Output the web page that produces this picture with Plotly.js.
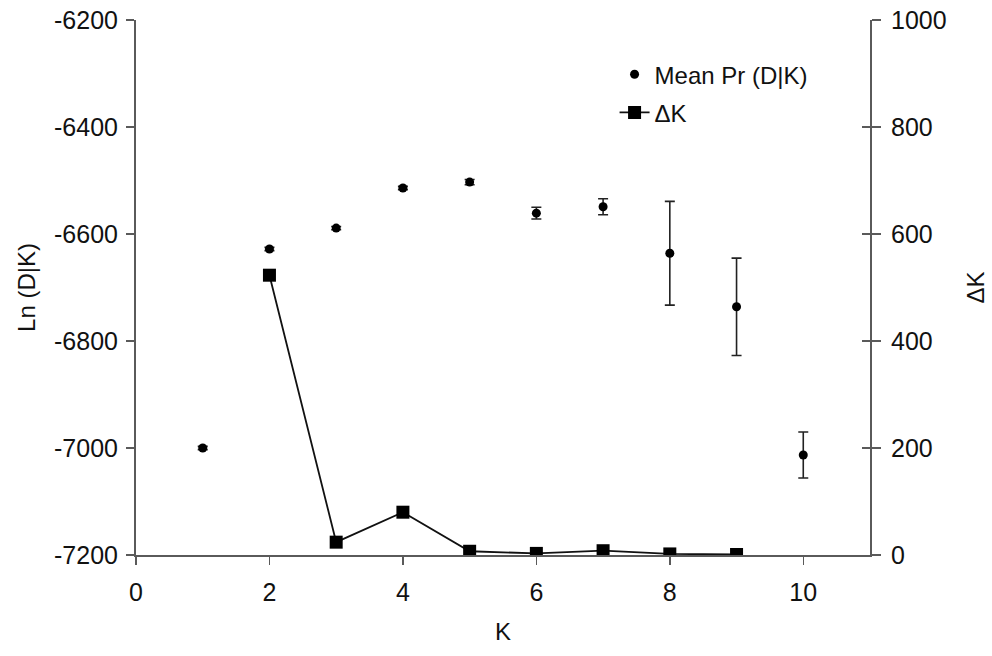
<!DOCTYPE html>
<html>
<head>
<meta charset="utf-8">
<script src="https://cdn.plot.ly/plotly-3.0.1.min.js"></script>
<style>html,body{margin:0;padding:0;background:#fff;}#chart{width:992px;height:656px;}</style>
</head>
<body>
<div id="chart"></div>
<script>
// Data
const K = [1, 2, 3, 4, 5, 6, 7, 8, 9, 10];
const meanLnP = [-7000, -6628, -6589, -6514, -6503, -6561, -6549, -6636, -6736, -7013];
const meanSD = [3, 3, 3, 3, 5, 11, 15, 97, 91, 43];
const deltaKx = [2, 3, 4, 5, 6, 7, 8, 9];
const deltaK = [523, 24, 80, 7, 3, 8, 2, 1];
const leftTicks = [-7200, -7000, -6800, -6600, -6400, -6200];
const rightTicks = [0, 200, 400, 600, 800, 1000];
const xTicks = [0, 2, 4, 6, 8, 10];

const FONT = "Liberation Sans, Arial, sans-serif";
const AX = "#5a5a5a";
const TICKFONT = {family: FONT, size: 25, color: "#111"};

const traces = [
  {
    x: K, y: meanLnP, type: "scatter", mode: "markers", name: "Mean Pr (D|K)",
    marker: {symbol: "circle", size: 9, color: "#000"},
    error_y: {type: "data", array: meanSD, visible: true, color: "#222", thickness: 1.6, width: 5},
    legendgroup: "a", yaxis: "y"
  },
  {
    x: deltaKx, y: deltaK, type: "scatter", mode: "lines+markers", name: "\u0394K",
    marker: {symbol: "square", size: 13, color: "#000"},
    line: {color: "#111", width: 1.8},
    legendgroup: "b", yaxis: "y2"
  },
  {
    // helper trace so the cross-tick axis is drawn
    x: [0], y: [0], type: "scatter", mode: "markers", yaxis: "y3",
    marker: {size: 0.1, opacity: 0}, showlegend: false, hoverinfo: "skip"
  }
];

const layout = {
  width: 992, height: 656,
  margin: {l: 136, r: 122, t: 20, b: 101},
  paper_bgcolor: "#fff", plot_bgcolor: "#fff",
  font: {family: FONT, size: 24, color: "#111"},
  showlegend: true,
  legend: {
    x: 0.652, y: 0.94, xanchor: "left", yanchor: "top",
    bgcolor: "rgba(0,0,0,0)", font: {family: FONT, size: 24, color: "#111"},
    traceorder: "grouped", tracegroupgap: 4
  },
  xaxis: {
    range: [0, 11], tickvals: xTicks, ticktext: xTicks.map(String),
    showgrid: false, zeroline: false,
    showline: true, linecolor: AX, linewidth: 2,
    ticks: "outside", ticklen: 8, tickwidth: 1.5, tickcolor: AX,
    ticklabelstandoff: 6, tickfont: TICKFONT,
    title: {text: "K", font: {family: FONT, size: 24}, standoff: 18}
  },
  yaxis: {
    range: [-7200, -6200], tickvals: leftTicks, ticktext: leftTicks.map(String),
    showgrid: false, zeroline: false,
    showline: true, linecolor: AX, linewidth: 2,
    ticks: "outside", ticklen: 8, tickwidth: 1.5, tickcolor: AX,
    ticklabelstandoff: 3, tickfont: TICKFONT,
    title: {text: "Ln (D|K)", font: {family: FONT, size: 24}, standoff: 12}
  },
  yaxis2: {
    overlaying: "y", side: "right", range: [0, 1000],
    tickvals: rightTicks, ticktext: rightTicks.map(String),
    showgrid: false, zeroline: false,
    showline: true, linecolor: AX, linewidth: 2,
    ticks: "outside", ticklen: 9, tickwidth: 1.5, tickcolor: AX,
    ticklabelstandoff: 5, tickfont: TICKFONT,
    title: {text: "\u0394K", font: {family: FONT, size: 24}, standoff: 22}
  },
  yaxis3: {
    overlaying: "y", side: "right", range: [0, 1000],
    tickvals: rightTicks, showticklabels: false,
    showgrid: false, zeroline: false, showline: false,
    ticks: "inside", ticklen: 8, tickwidth: 1.5, tickcolor: AX
  }
};

Plotly.newPlot("chart", traces, layout, {staticPlot: true, displayModeBar: false});
</script>
</body>
</html>
